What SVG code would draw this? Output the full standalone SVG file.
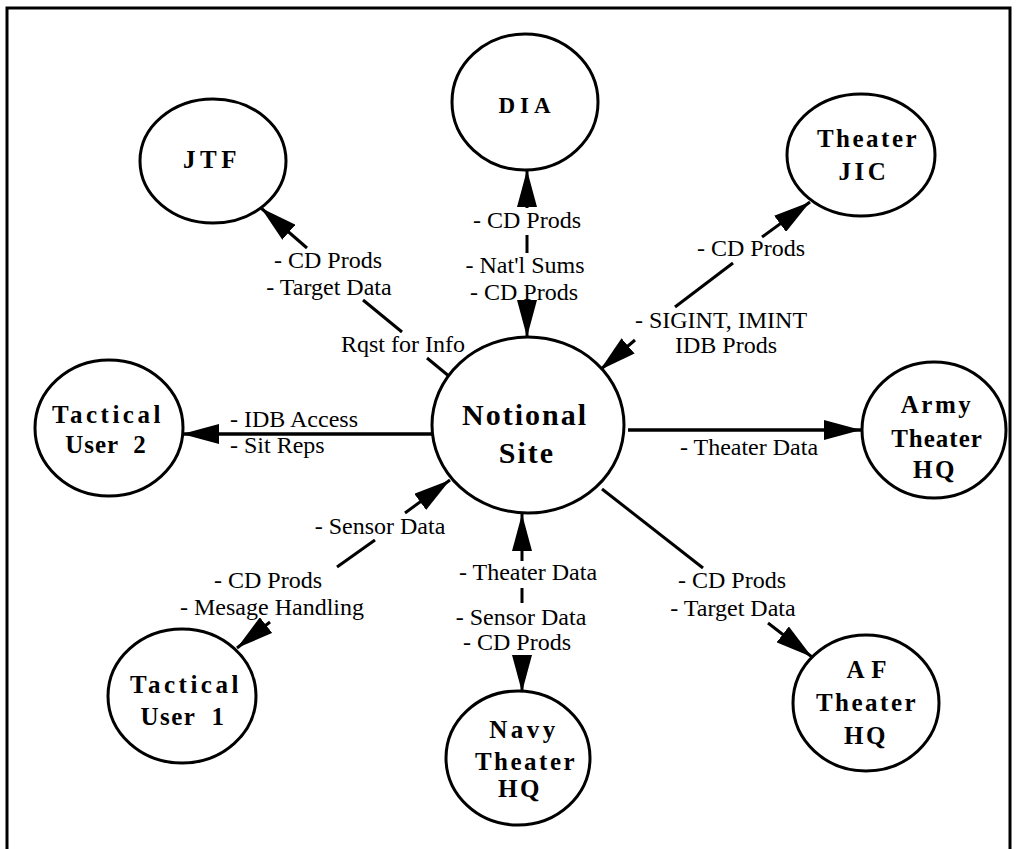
<svg xmlns="http://www.w3.org/2000/svg" width="1018" height="849" viewBox="0 0 1018 849">
<style>
.node{fill:#fff;stroke:#000;stroke-width:3}
.nl{font-family:"Liberation Serif",serif;font-weight:bold;font-size:25px;text-anchor:middle;fill:#000;letter-spacing:2.5px}
.lb{font-family:"Liberation Serif",serif;font-size:24px;fill:#000}
.c{text-anchor:middle}
.ln{stroke:#000;stroke-width:3;fill:none}
</style>
<defs>
<marker id="ah" markerWidth="37" markerHeight="20" refX="37" refY="10" orient="auto" markerUnits="userSpaceOnUse"><path d="M0,0 L37,10 L0,20 z" fill="#000"/></marker>
</defs>
<rect width="1018" height="849" fill="#fff"/>
<path d="M7,858 V8 H1010 V858" fill="none" stroke="#000" stroke-width="3"/>
<g id="connectors">
<line class="ln" x1="450" y1="377" x2="427" y2="358"/>
<line class="ln" x1="402" y1="332" x2="363" y2="300"/>
<line class="ln" x1="307" y1="248" x2="261" y2="208" marker-end="url(#ah)"/>
<line class="ln" x1="527" y1="208" x2="527" y2="170" marker-end="url(#ah)"/>
<line class="ln" x1="527" y1="235" x2="527" y2="253"/>
<line class="ln" x1="527" y1="302" x2="527" y2="337" marker-end="url(#ah)"/>
<line class="ln" x1="635" y1="340" x2="600" y2="370" marker-end="url(#ah)"/>
<line class="ln" x1="675" y1="307" x2="733" y2="263"/>
<line class="ln" x1="762" y1="237" x2="810" y2="202" marker-end="url(#ah)"/>
<line class="ln" x1="432" y1="434" x2="182" y2="434" marker-end="url(#ah)" style="stroke-width:3.5"/>
<line class="ln" x1="628" y1="430" x2="861" y2="430" marker-end="url(#ah)" style="stroke-width:3.5"/>
<line class="ln" x1="602" y1="489" x2="703" y2="568"/>
<line class="ln" x1="768" y1="623" x2="812" y2="657" marker-end="url(#ah)"/>
<line class="ln" x1="522" y1="561" x2="522" y2="514" marker-end="url(#ah)"/>
<line class="ln" x1="522" y1="588" x2="522" y2="603"/>
<line class="ln" x1="522" y1="656" x2="522" y2="692" marker-end="url(#ah)"/>
<line class="ln" x1="405" y1="513" x2="450" y2="480" marker-end="url(#ah)"/>
<line class="ln" x1="375" y1="540" x2="337" y2="567"/>
<line class="ln" x1="270" y1="622" x2="237" y2="648" marker-end="url(#ah)"/>
<text class="lb c" x="328" y="268">- CD Prods</text>
<text class="lb c" x="329" y="295">- Target Data</text>
<text class="lb c" x="403" y="352">Rqst for Info</text>
<text class="lb c" x="527" y="228">- CD Prods</text>
<text class="lb c" x="525" y="273">- Nat'l Sums</text>
<text class="lb c" x="524" y="300">- CD Prods</text>
<text class="lb c" x="751" y="256">- CD Prods</text>
<text class="lb c" x="721" y="328">- SIGINT, IMINT</text>
<text class="lb c" x="726" y="353">IDB Prods</text>
<text class="lb" x="230" y="427">- IDB Access</text>
<text class="lb" x="230" y="453">- Sit Reps</text>
<text class="lb c" x="749" y="455">- Theater Data</text>
<text class="lb c" x="732" y="588">- CD Prods</text>
<text class="lb c" x="733" y="616">- Target Data</text>
<text class="lb c" x="528" y="580">- Theater Data</text>
<text class="lb c" x="521" y="625">- Sensor Data</text>
<text class="lb c" x="517" y="650">- CD Prods</text>
<text class="lb c" x="380" y="534">- Sensor Data</text>
<text class="lb c" x="268" y="588">- CD Prods</text>
<text class="lb c" x="272" y="615">- Mesage Handling</text>
</g>
<g id="dia"><ellipse class="node" cx="525" cy="102" rx="73" ry="68"/><text class="nl" x="527" y="113" style="font-size:23px;letter-spacing:5px">DIA</text></g>
<g id="jtf"><ellipse class="node" cx="213" cy="161" rx="73" ry="62"/><text class="nl" x="212" y="168" style="letter-spacing:4.5px">JTF</text></g>
<g id="theater-jic"><ellipse class="node" cx="861" cy="155" rx="74" ry="61"/><text class="nl" x="868" y="147">Theater</text><text class="nl" x="864" y="180" style="letter-spacing:3.5px">JIC</text></g>
<g id="notional-site"><ellipse class="node" cx="528" cy="425" rx="96" ry="88"/><text class="nl" x="525" y="425" style="font-size:30px;letter-spacing:2px">Notional</text><text class="nl" x="527" y="463" style="font-size:30px;letter-spacing:2px">Site</text></g>
<g id="tactical-user-2"><ellipse class="node" cx="109" cy="428" rx="74" ry="68"/><text class="nl" x="108" y="423" style="letter-spacing:3.5px">Tactical</text><text class="nl" x="106" y="453" style="letter-spacing:1px" xml:space="preserve">User  2</text></g>
<g id="army-theater-hq"><ellipse class="node" cx="934" cy="430" rx="72" ry="68"/><text class="nl" x="937" y="413">Army</text><text class="nl" x="937" y="447" style="letter-spacing:1px">Theater</text><text class="nl" x="935" y="478">HQ</text></g>
<g id="tactical-user-1"><ellipse class="node" cx="182" cy="696" rx="74" ry="67"/><text class="nl" x="186" y="693" style="letter-spacing:3.5px">Tactical</text><text class="nl" x="183" y="725" style="letter-spacing:1.5px" xml:space="preserve">User  1</text></g>
<g id="navy-theater-hq"><ellipse class="node" cx="518" cy="758" rx="72" ry="67"/><text class="nl" x="524" y="738" style="letter-spacing:3.5px">Navy</text><text class="nl" x="526" y="770">Theater</text><text class="nl" x="520" y="797">HQ</text></g>
<g id="af-theater-hq"><ellipse class="node" cx="866" cy="703" rx="73" ry="68"/><text class="nl" x="867" y="678" style="letter-spacing:1px" xml:space="preserve">A F</text><text class="nl" x="867" y="711">Theater</text><text class="nl" x="866" y="744">HQ</text></g>
</svg>
